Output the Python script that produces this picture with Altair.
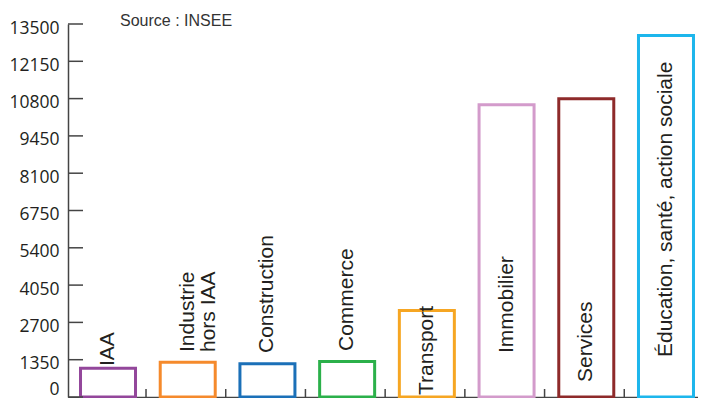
import altair as alt
import pandas as pd

categories = ["IAA", "Industrie hors IAA", "Construction", "Commerce", "Transport",
              "Immobilier", "Services", "Éducation, santé, action sociale"]
labels = ["IAA", "Industrie\nhors IAA", "Construction", "Commerce", "Transport",
          "Immobilier", "Services", "Éducation, santé, action sociale"]
values = [1042, 1260, 1202, 1285, 3131, 10575, 10793, 13084]
label_anchor = [1122, 1629, 1592, 1665, 72, 1592, 543, 1448]
colors = ["#93479B", "#F58A2C", "#1B70B8", "#2BB04A", "#F6A623",
          "#D39BCB", "#8E2A2A", "#1DB6EC"]
y_ticks = [0, 1350, 2700, 4050, 5400, 6750, 8100, 9450, 10800, 12150, 13500]
source_note = "Source : INSEE"

df = pd.DataFrame({"cat": categories, "label": labels, "value": values, "anchor": label_anchor})
ticks_df = pd.DataFrame({"v": y_ticks})
src_df = pd.DataFrame({"t": [source_note]})

axis_color = "#444444"
xscale = alt.Scale(domain=categories, range=[0, 638], paddingInner=0.31, paddingOuter=0.157)
yscale = alt.Scale(domain=[0, 13500], nice=False, zero=True)
xaxis = alt.Axis(title=None, labels=False, ticks=False, domain=True,
                 domainColor=axis_color, domainWidth=1.5)
yaxis = alt.Axis(title=None, values=y_ticks, format="d", ticks=False, grid=False,
                 labelPadding=9,
                 labelOffset={"condition": {"test": "datum.value === 0", "value": -8}, "value": 4},
                 labelFont="Open Sans",
                 labelFontSize=17.5, labelColor="#231F20", labelOverlap=False,
                 labelFlush=False, domainColor=axis_color, domainWidth=1.5)

bars = alt.Chart(df).mark_bar(fill="transparent", strokeWidth=3).encode(
    x=alt.X("cat:N", scale=xscale, axis=xaxis),
    y=alt.Y("value:Q", scale=yscale, axis=yaxis),
    stroke=alt.Stroke("cat:N", scale=alt.Scale(domain=categories, range=colors), legend=None),
)

ytick_rules = alt.Chart(ticks_df).mark_rule(color=axis_color, strokeWidth=1.5).encode(
    y=alt.Y("v:Q", scale=yscale, axis=yaxis),
    x=alt.value(0),
    x2=alt.value(15),
)

xtick_rules = alt.Chart(df).mark_rule(color=axis_color, strokeWidth=1.5, xOffset=10.5).encode(
    x=alt.X("cat:N", scale=xscale, bandPosition=1, axis=xaxis),
    y=alt.value(373),
    y2=alt.value(365),
)

texts = alt.Chart(df).mark_text(
    angle=270, align="left", baseline="middle", fontSize=21, font="Liberation Sans",
    color="#231F20", lineBreak="\n", lineHeight=21,
).encode(
    x=alt.X("cat:N", scale=xscale, axis=xaxis),
    y=alt.Y("anchor:Q", scale=yscale, axis=yaxis),
    text="label:N",
)

source = alt.Chart(src_df).mark_text(
    align="left", baseline="alphabetic", fontSize=16, font="Liberation Sans", color="#333333"
).encode(x=alt.value(52), y=alt.value(2), text="t:N")

chart = alt.layer(bars, ytick_rules, xtick_rules, texts, source).properties(
    width=630, height=373,
    padding={"left": 60, "top": 16, "right": 0, "bottom": 1},
    autosize="none",
).configure_view(stroke=None)

chart.save("out.html", embed_options={"renderer": "svg", "actions": False})
